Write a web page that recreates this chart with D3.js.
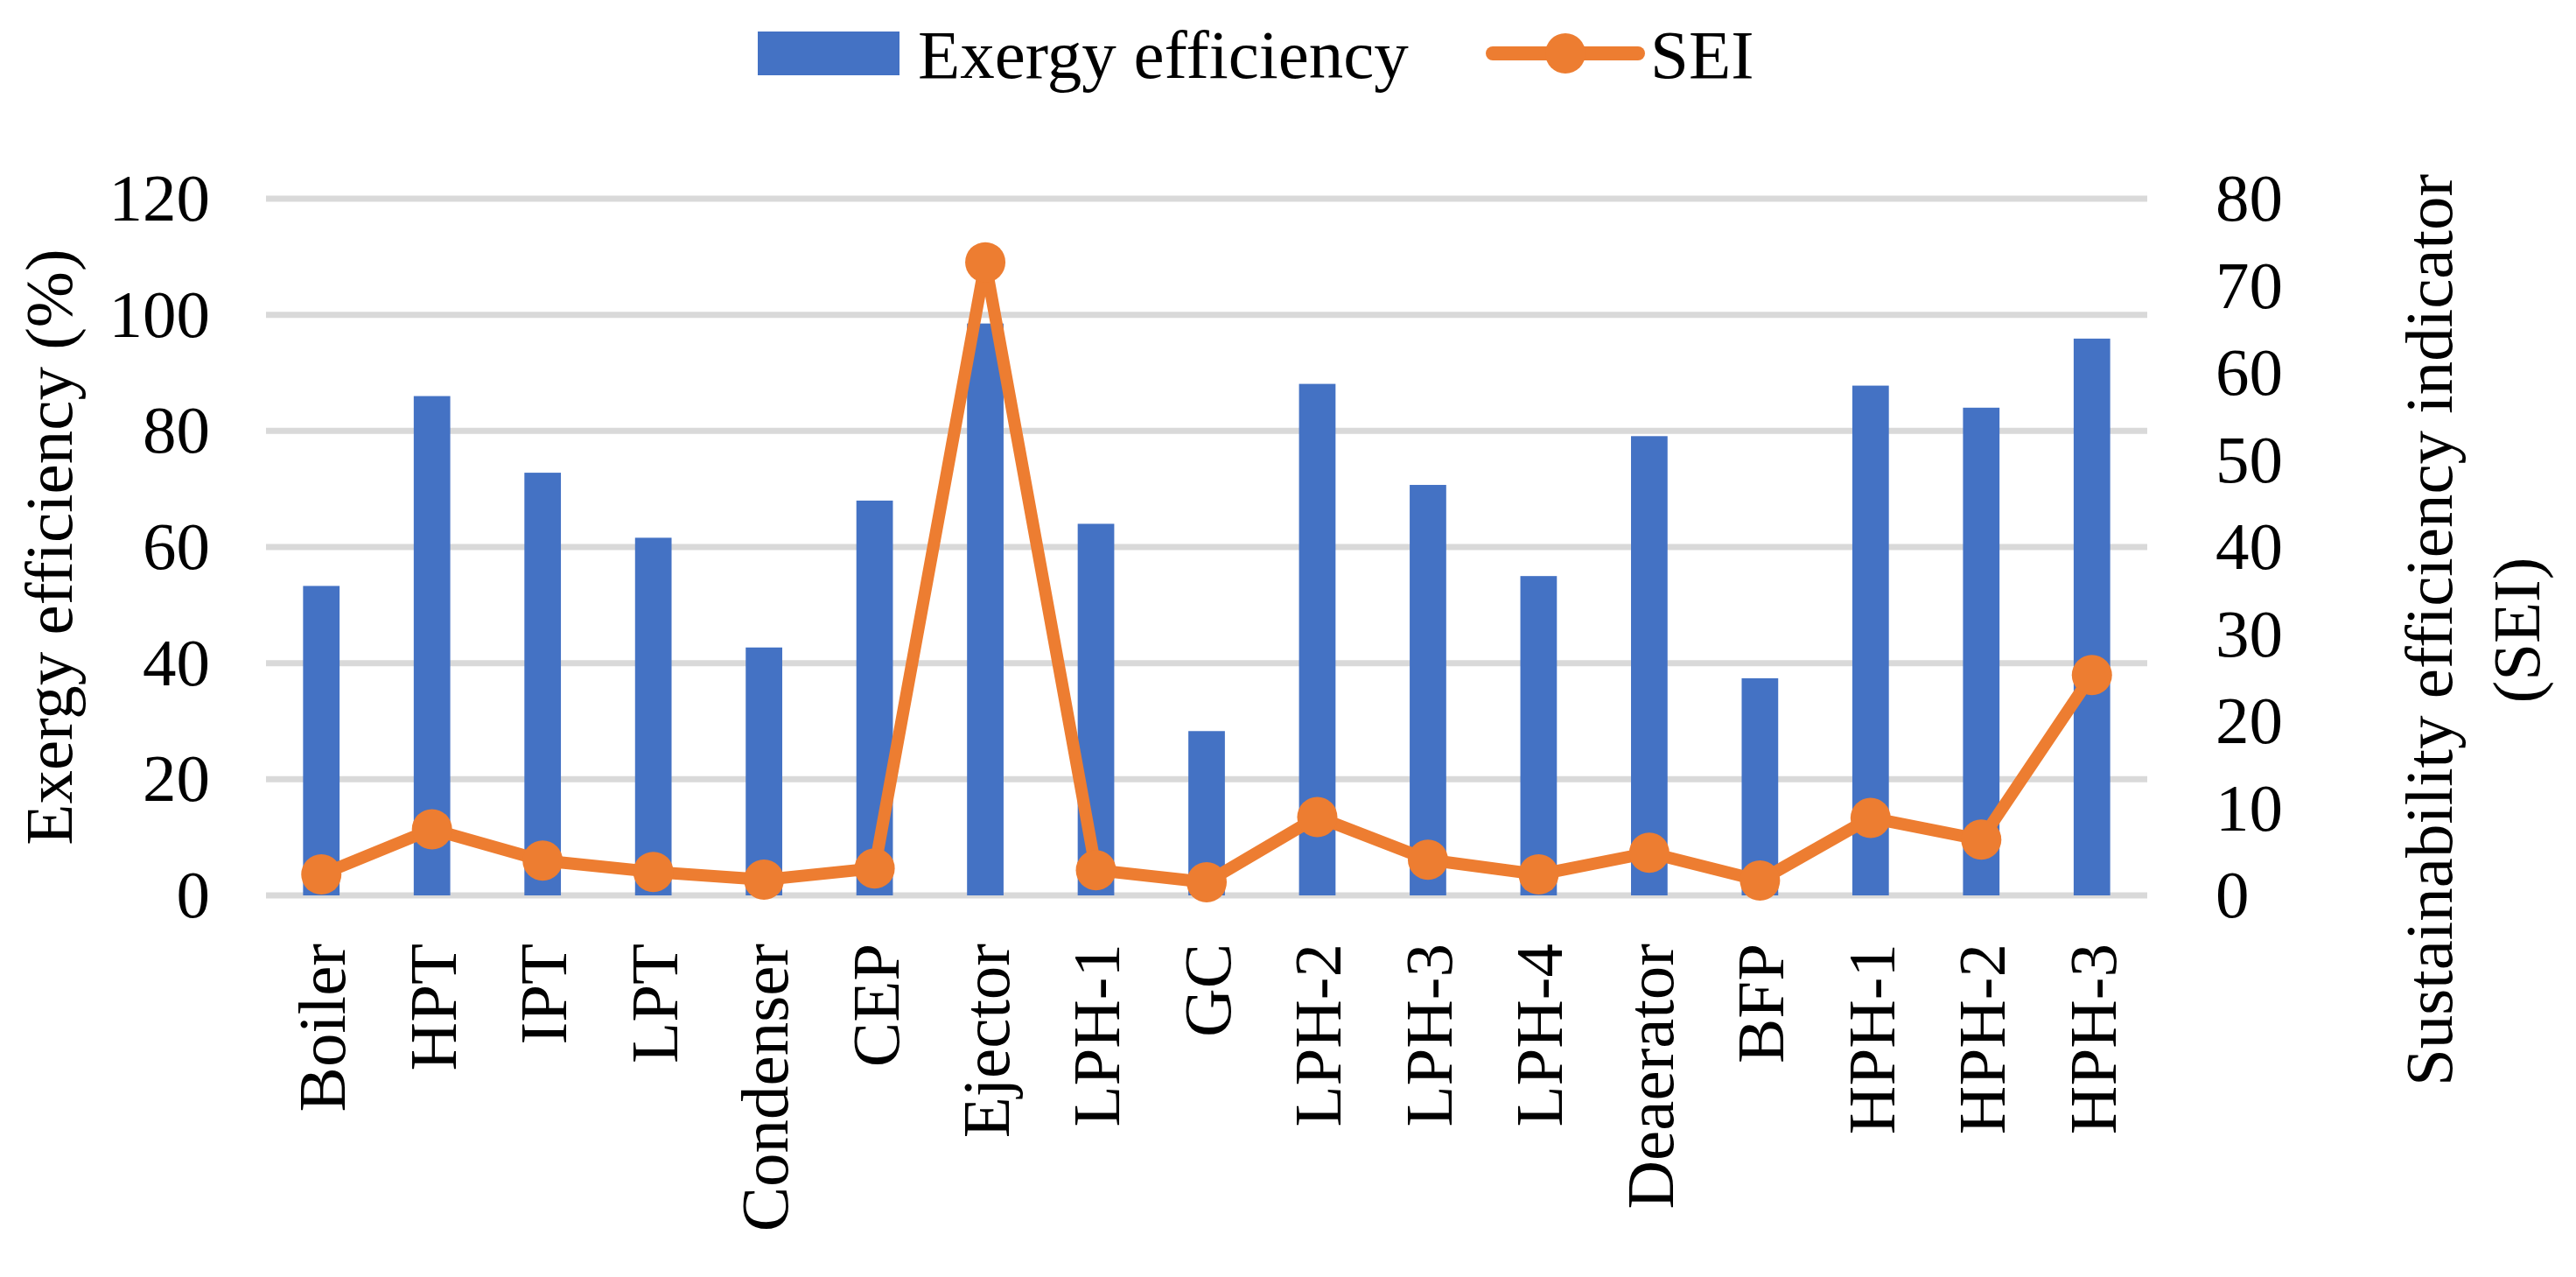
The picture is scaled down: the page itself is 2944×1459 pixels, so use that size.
<!DOCTYPE html>
<html>
<head>
<meta charset="utf-8">
<script src="https://cdn.jsdelivr.net/npm/d3@7"></script>
<style>
  body { margin: 0; background: #fff; }
  text { font-family: "Liberation Serif", "Times New Roman", serif; fill: #000; }
</style>
</head>
<body>
<div id="chart"></div>
<script>
const width = 2944;
const height = 1459;
const margin = {top: 227, right: 490, bottom: 436, left: 304};

const categories = ["Boiler", "HPT", "IPT", "LPT", "Condenser", "CEP", "Ejector", "LPH-1", "GC",
    "LPH-2", "LPH-3", "LPH-4", "Deaerator", "BFP", "HPH-1", "HPH-2", "HPH-3"];
// exergy efficiency (%), left axis
const exergyEfficiency = [53.3, 86.0, 72.8, 61.6, 42.7, 68.0, 98.5, 64.0, 28.3,
    88.1, 70.7, 55.0, 79.1, 37.4, 87.8, 84.0, 95.9];
// sustainability efficiency indicator, right axis
const sei = [2.4, 7.6, 4.0, 2.7, 1.8, 3.1, 72.7, 2.9, 1.5,
    9.0, 4.1, 2.4, 4.9, 1.7, 8.9, 6.4, 25.3];
const leftTicks = [0, 20, 40, 60, 80, 100, 120];
const rightTicks = [0, 10, 20, 30, 40, 50, 60, 70, 80];

const blue = "#4472C4";
const orange = "#ED7D31";
const fontSize = 77;

const svg = d3.select("#chart").append("svg")
    .attr("width", width)
    .attr("height", height);

const x = d3.scaleBand()
    .domain(categories)
    .range([margin.left, width - margin.right])
    .paddingInner(0.67)
    .paddingOuter(0.335);
const y = d3.scaleLinear().domain([0, 120]).range([height - margin.bottom, margin.top]);
const y2 = d3.scaleLinear().domain([0, 80]).range([height - margin.bottom, margin.top]);

// Gridlines.
svg.append("g")
    .selectAll("line")
    .data(leftTicks)
    .enter().append("line")
    .attr("x1", margin.left)
    .attr("x2", width - margin.right)
    .attr("y1", (d) => y(d))
    .attr("y2", (d) => y(d))
    .attr("stroke", "#d9d9d9")
    .attr("stroke-width", 7);

// Left axis labels.
const leftAxis = svg.append("g")
    .attr("transform", `translate(${margin.left - 64},0)`)
    .call(d3.axisLeft(y).tickValues(leftTicks).tickSize(0).tickPadding(0));
leftAxis.select(".domain").remove();
leftAxis.selectAll("text")
    .attr("font-family", null)
    .style("font-size", fontSize + "px");

// Right axis labels.
const rightAxis = svg.append("g")
    .attr("transform", `translate(${width - margin.right + 78},0)`)
    .call(d3.axisRight(y2).tickValues(rightTicks).tickSize(0).tickPadding(0));
rightAxis.select(".domain").remove();
rightAxis.selectAll("text")
    .attr("font-family", null)
    .style("font-size", fontSize + "px");

// Category labels, rotated.
svg.append("g")
    .selectAll("text")
    .data(categories)
    .enter().append("text")
    .attr("transform", (d) => `translate(${x(d) + x.bandwidth() / 2},${height - margin.bottom + 55}) rotate(-90)`)
    .attr("text-anchor", "end")
    .attr("dy", "0.35em")
    .style("font-size", fontSize + "px")
    .text((d) => d);

// Bars.
svg.append("g")
    .selectAll("rect")
    .data(exergyEfficiency)
    .enter().append("rect")
    .attr("x", (d, i) => x(categories[i]))
    .attr("y", (d) => y(d))
    .attr("width", x.bandwidth())
    .attr("height", (d) => y(0) - y(d))
    .attr("fill", blue);

// SEI line and markers.
const line = d3.line()
    .x((d, i) => x(categories[i]) + x.bandwidth() / 2)
    .y((d) => y2(d));
svg.append("path")
    .attr("d", line(sei))
    .attr("fill", "none")
    .attr("stroke", orange)
    .attr("stroke-width", 14)
    .attr("stroke-linejoin", "round");
svg.append("g")
    .selectAll("circle")
    .data(sei)
    .enter().append("circle")
    .attr("cx", (d, i) => x(categories[i]) + x.bandwidth() / 2)
    .attr("cy", (d) => y2(d))
    .attr("r", 23)
    .attr("fill", orange);

// Axis titles.
svg.append("text")
    .attr("transform", `translate(82,${(y(0) + y(120)) / 2}) rotate(-90)`)
    .attr("text-anchor", "middle")
    .style("font-size", fontSize + "px")
    .text("Exergy efficiency (%)");

const rightTitle = svg.append("text")
    .attr("transform", `translate(2802,720) rotate(-90)`)
    .attr("text-anchor", "middle")
    .style("font-size", fontSize + "px");
rightTitle.append("tspan").attr("x", 0).attr("y", 0).text("Sustainability efficiency indicator");
rightTitle.append("tspan").attr("x", 0).attr("y", 100).text("(SEI)");

// Legend.
const legend = svg.append("g");
legend.append("rect")
    .attr("x", 866).attr("y", 36)
    .attr("width", 162).attr("height", 50)
    .attr("fill", blue);
legend.append("text")
    .attr("x", 1049).attr("y", 61)
    .attr("dy", "0.35em")
    .style("font-size", (fontSize + 2) + "px")
    .text("Exergy efficiency");
legend.append("line")
    .attr("x1", 1706).attr("x2", 1872)
    .attr("y1", 61).attr("y2", 61)
    .attr("stroke", orange)
    .attr("stroke-width", 16)
    .attr("stroke-linecap", "round");
legend.append("circle")
    .attr("cx", 1789).attr("cy", 61).attr("r", 23)
    .attr("fill", orange);
legend.append("text")
    .attr("x", 1886).attr("y", 61)
    .attr("dy", "0.35em")
    .style("font-size", (fontSize + 2) + "px")
    .text("SEI");
</script>
</body>
</html>
